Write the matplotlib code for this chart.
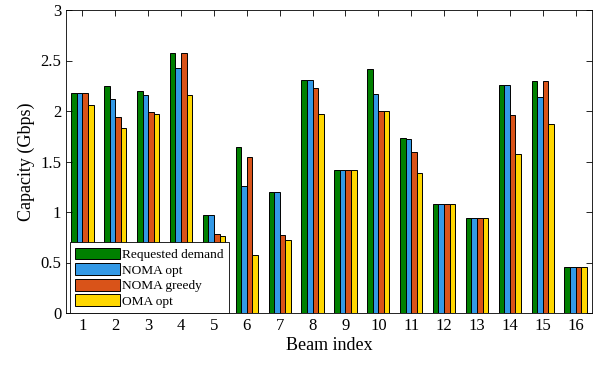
import matplotlib
matplotlib.use('Agg')
import matplotlib.pyplot as plt
import numpy as np

plt.rcParams['font.family'] = ['Liberation Serif', 'DejaVu Serif']
plt.rcParams['mathtext.fontset'] = 'stix'

beams = list(range(1, 17))
requested = [2.18, 2.25, 2.20, 2.57, 0.97, 1.64, 1.20, 2.31, 1.42, 2.42, 1.73, 1.08, 0.94, 2.26, 2.30, 0.46]
noma_opt = [2.18, 2.12, 2.16, 2.43, 0.97, 1.26, 1.20, 2.31, 1.42, 2.17, 1.72, 1.08, 0.94, 2.26, 2.14, 0.46]
noma_greedy = [2.18, 1.94, 1.99, 2.57, 0.78, 1.54, 0.77, 2.23, 1.42, 2.00, 1.59, 1.08, 0.94, 1.96, 2.30, 0.46]
oma_opt = [2.06, 1.83, 1.97, 2.16, 0.76, 0.57, 0.72, 1.97, 1.42, 2.00, 1.39, 1.08, 0.94, 1.57, 1.87, 0.46]

series = [
    ('Requested demand', requested, '#008000'),
    ('NOMA opt', noma_opt, '#3399E6'),
    ('NOMA greedy', noma_greedy, '#D95319'),
    ('OMA opt', oma_opt, '#FFD700'),
]

fig = plt.figure(figsize=(6.01, 3.65), dpi=100)
ax = fig.add_axes([66 / 601, 1 - 313 / 365, (592 - 66) / 601, (313 - 10) / 365])

x = np.array(beams)
w = 0.17
for i, (name, vals, col) in enumerate(series):
    ax.bar(x + (i - 1.5) * w, vals, width=w, color=col, edgecolor='black',
           linewidth=0.7, label=name)

ax.set_xlim(0.5, 16.5)
ax.set_ylim(0, 3)
ax.set_xticks(beams)
ax.set_yticks([0, 0.5, 1, 1.5, 2, 2.5, 3])
ax.set_yticklabels(['0', '0.5', '1', '1.5', '2', '2.5', '3'])
ax.tick_params(direction='in', top=True, right=True, labelsize=12, length=4, width=0.6)
for s in ax.spines.values():
    s.set_linewidth(0.6)
ax.set_xlabel('Beam index', fontsize=13, labelpad=2)
ax.set_ylabel('Capacity (Gbps)', fontsize=13, labelpad=4)

leg = ax.legend(loc='lower left', bbox_to_anchor=(0.007, 0.0), fontsize=9.6,
                fancybox=False, edgecolor='black', framealpha=1,
                handlelength=3.4, handleheight=1.0, handletextpad=0.15,
                labelspacing=0.15, borderpad=0.4, borderaxespad=0.0)
leg.get_frame().set_linewidth(0.6)

fig.savefig('out.png', dpi=100)
